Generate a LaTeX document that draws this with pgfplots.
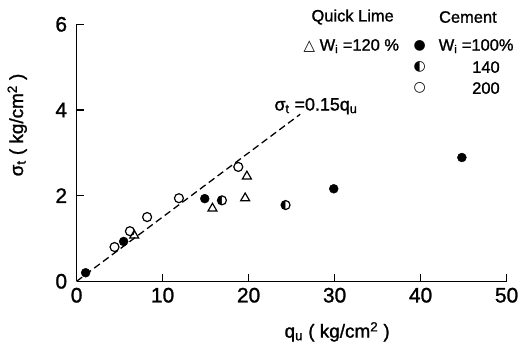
\documentclass[border=0pt]{standalone}
\usepackage{fontspec}
\setmainfont{Liberation Sans}[BoldFont=Liberation Sans, BoldFeatures={FakeBold=1.2}]
\newfontfamily\symfont{DejaVu Sans}
\usepackage{pgfplots}
\pgfplotsset{compat=1.18}
\usetikzlibrary{plotmarks}
\begin{document}
\begin{tikzpicture}
\path[use as bounding box] (-76.6bp,-60.7bp) rectangle (450.4bp,281.3bp);
\begin{axis}[
  at={(0,0)}, anchor=south west,
  scale only axis, width=430bp, height=257bp,
  xmin=0, xmax=50, ymin=0, ymax=6,
  axis x line=bottom, axis y line=left,
  axis line style={-, line width=1.5pt},
  xtick={0,10,20,30,40,50}, ytick={0,2,4,6},
  xtick align=inside, ytick align=inside,
  major tick length=7bp,
  tick style={line width=1.2pt, black},
  ticklabel style={font=\fontsize{21}{21}\selectfont\bfseries},
  xticklabel style={yshift=-3bp},
  yticklabel style={xshift=-6bp},
  /pgf/number format/assume math mode=true,
  clip=false,
]
% dashed line sigma_t = 0.15 q_u
\addplot[black, line width=1.3pt, dash pattern=on 7bp off 4bp] coordinates {(0,0) (26,3.9)};
% Cement, Wi = 100%
\addplot[only marks, mark=*, mark size=4.5pt, mark options={draw=black, fill=black}] coordinates {
(1.05,0.20) (5.47,0.93) (14.9,1.93) (29.9,2.16) (44.8,2.89)};
% Cement, Wi = 140%
\addplot[only marks, mark=halfcircle*, mark size=4.5pt, mark options={draw=black, fill=black, rotate=90, line width=1.2pt}] coordinates {
(16.9,1.89) (24.3,1.78)};
% Cement, Wi = 200%
\addplot[only marks, mark=o, mark size=4.5pt, mark options={draw=black, fill=white, line width=1.2pt}] coordinates {
(4.41,0.80) (6.2,1.17) (8.2,1.50) (11.9,1.94) (18.8,2.67)};
% Quick Lime, Wi = 120%
\addplot[only marks, mark=triangle, mark size=5.2pt, mark options={draw=black, fill=white, line width=1.2pt}] coordinates {
(6.7,1.07) (15.8,1.70) (19.6,1.94) (19.8,2.45)};
% labels
\node[font=\fontsize{19}{19}\selectfont\bfseries] at (axis cs:30.3,-1.18) {q\textsubscript{u} ( kg/cm\textsuperscript{2} )};
\node[font=\fontsize{19}{19}\selectfont\bfseries, rotate=90] at (axis cs:-6.9,3.65) {σ\textsubscript{t} ( kg/cm\textsuperscript{2} )};
\node[font=\fontsize{18}{18}\selectfont\bfseries, anchor=west] at (axis cs:22.6,4.09) {σ\textsubscript{t} =0.15q\textsubscript{u}};
% legend
\node[font=\fontsize{16.5}{16.5}\selectfont\bfseries] at (axis cs:32.1,6.17) {Quick Lime};
\node[font=\fontsize{16.5}{16.5}\selectfont\bfseries] at (axis cs:45.5,6.17) {Cement};
\node[font=\fontsize{16.5}{16.5}\selectfont\bfseries, anchor=east] at (axis cs:37.9,5.49) {{\fontsize{15}{15}\selectfont\symfont △} W\textsubscript{i} =120 \%};
\node[font=\fontsize{14}{14}\selectfont\symfont] at (axis cs:39.9,5.49) {●};
\node[font=\fontsize{16.5}{16.5}\selectfont\bfseries, anchor=west] at (axis cs:41.7,5.49) {W\textsubscript{i} =100\%};
\node[font=\fontsize{14}{14}\selectfont\symfont] at (axis cs:39.9,5.0) {◐};
\node[font=\fontsize{16.5}{16.5}\selectfont\bfseries] at (axis cs:47.6,5.0) {140};
\node[font=\fontsize{14}{14}\selectfont\symfont] at (axis cs:39.9,4.51) {○};
\node[font=\fontsize{16.5}{16.5}\selectfont\bfseries] at (axis cs:47.6,4.51) {200};
\end{axis}
\end{tikzpicture}
\end{document}
